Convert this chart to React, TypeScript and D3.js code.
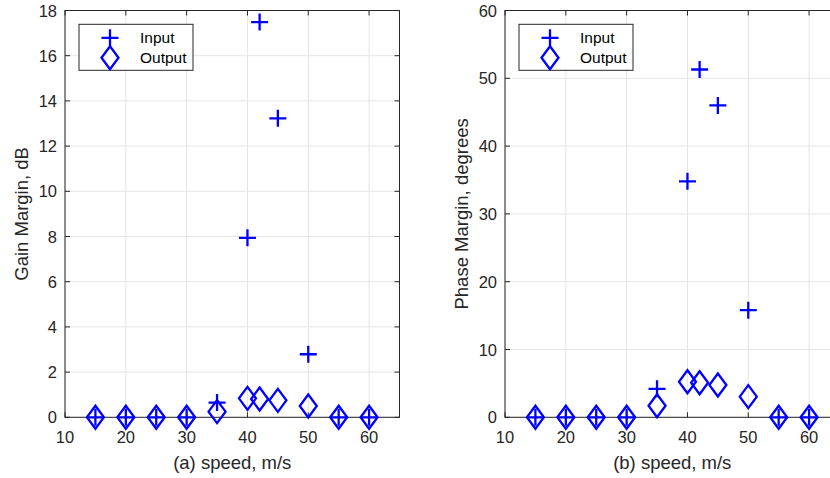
import React from "react";
import * as d3 from "d3";

const speeds = [15, 20, 25, 30, 35, 40, 42, 45, 50, 55, 60];
const gainInput = [0, 0, 0, 0, 0.65, 7.94, 17.49, 13.23, 2.79, 0, 0];
const gainOutput = [0, 0, 0, 0, 0.25, 0.84, 0.81, 0.75, 0.5, 0, 0];
const phaseInput = [0, 0, 0, 0, 4.2, 34.8, 51.3, 46.0, 15.8, 0, 0];
const phaseOutput = [0, 0, 0, 0, 1.7, 5.25, 5.1, 4.77, 3.04, 0, 0];
const xTicks = [10, 20, 30, 40, 50, 60];
const gainTicks = [0, 2, 4, 6, 8, 10, 12, 14, 16, 18];
const phaseTicks = [0, 10, 20, 30, 40, 50, 60];
const legendLabels = ["Input", "Output"];

const BLUE = "#0000ff";
const AX = "#262626";
const GRID = "#e6e6e6";
const FONT = "'Liberation Sans', Arial, Helvetica, sans-serif";

const plusPath = (x: number, y: number, s = 8.5) =>
  `M${x - s},${y}H${x + s}M${x},${y - s}V${y + s}`;
const diamondPath = (x: number, y: number, w = 8.5, h = 11.5) =>
  `M${x},${y - h}L${x + w},${y}L${x},${y + h}L${x - w},${y}Z`;

type PanelProps = {
  left: number;
  right: number;
  top: number;
  bottom: number;
  yMax: number;
  yTicks: number[];
  input: number[];
  output: number[];
  xLabel: string;
  yLabel: string;
  yLabelX: number;
};

function Panel(p: PanelProps) {
  const x = d3.scaleLinear().domain([10, 65]).range([p.left, p.right]);
  const y = d3.scaleLinear().domain([0, p.yMax]).range([p.bottom, p.top]);
  const tl = 5;
  const lgX = p.left + 14;
  const lgY = 24.3;
  return (
    <g>
      {/* grid */}
      {xTicks.map((t) => (
        <line key={"gx" + t} x1={x(t)} x2={x(t)} y1={p.top} y2={p.bottom} stroke={GRID} strokeWidth={1} />
      ))}
      {p.yTicks.map((t) => (
        <line key={"gy" + t} x1={p.left} x2={p.right} y1={y(t)} y2={y(t)} stroke={GRID} strokeWidth={1} />
      ))}
      {/* ticks */}
      {xTicks.map((t) => (
        <g key={"tx" + t}>
          <line x1={x(t)} x2={x(t)} y1={p.bottom} y2={p.bottom - tl} stroke={AX} />
          <line x1={x(t)} x2={x(t)} y1={p.top} y2={p.top + tl} stroke={AX} />
          <text x={x(t)} y={p.bottom + 26} textAnchor="middle" fontSize={16.5} fill={AX} fontFamily={FONT}>
            {t}
          </text>
        </g>
      ))}
      {p.yTicks.map((t) => (
        <g key={"ty" + t}>
          <line x1={p.left} x2={p.left + tl} y1={y(t)} y2={y(t)} stroke={AX} />
          <line x1={p.right} x2={p.right - tl} y1={y(t)} y2={y(t)} stroke={AX} />
          <text x={p.left - 8} y={y(t) + 6} textAnchor="end" fontSize={16.5} fill={AX} fontFamily={FONT}>
            {t}
          </text>
        </g>
      ))}
      <rect x={p.left} y={p.top} width={p.right - p.left} height={p.bottom - p.top} fill="none" stroke={AX} strokeWidth={1} />
      {/* data */}
      {speeds.map((s, i) => (
        <path key={"o" + i} d={diamondPath(x(s), y(p.output[i]))} fill="none" stroke={BLUE} strokeWidth={2.3} />
      ))}
      {speeds.map((s, i) => (
        <path key={"i" + i} d={plusPath(x(s), y(p.input[i]))} fill="none" stroke={BLUE} strokeWidth={2.3} />
      ))}
      {/* labels */}
      <text x={(p.left + p.right) / 2} y={469} textAnchor="middle" fontSize={18.5} fill={AX} fontFamily={FONT}>
        {p.xLabel}
      </text>
      <text
        transform={`translate(${p.yLabelX},${(p.top + p.bottom) / 2}) rotate(-90)`}
        textAnchor="middle"
        dy="0.35em"
        fontSize={18.5}
        fill={AX}
        fontFamily={FONT}
      >
        {p.yLabel}
      </text>
      {/* legend */}
      <rect x={lgX} y={lgY} width={114} height={46} fill="#fff" stroke={AX} strokeWidth={1} />
      <path d={plusPath(lgX + 31, lgY + 13.5)} fill="none" stroke={BLUE} strokeWidth={2.3} />
      <path d={diamondPath(lgX + 31, lgY + 33.5)} fill="none" stroke={BLUE} strokeWidth={2.3} />
      <text x={lgX + 61} y={lgY + 19} fontSize={15.5} fill="#000" fontFamily={FONT}>
        {legendLabels[0]}
      </text>
      <text x={lgX + 61} y={lgY + 39} fontSize={15.5} fill="#000" fontFamily={FONT}>
        {legendLabels[1]}
      </text>
    </g>
  );
}

export default function App() {
  return (
    <svg width={830} height={478} style={{ position: "absolute", left: 0, top: 0, background: "#fff" }}>
      <rect width={830} height={478} fill="#fff" />
      <Panel
        left={65}
        right={399.5}
        top={10.5}
        bottom={417.3}
        yMax={18}
        yTicks={gainTicks}
        input={gainInput}
        output={gainOutput}
        xLabel="(a) speed, m/s"
        yLabel="Gain Margin, dB"
        yLabelX={22}
      />
      <Panel
        left={505}
        right={839.5}
        top={10.5}
        bottom={417.3}
        yMax={60}
        yTicks={phaseTicks}
        input={phaseInput}
        output={phaseOutput}
        xLabel="(b) speed, m/s"
        yLabel="Phase Margin, degrees"
        yLabelX={462}
      />
    </svg>
  );
}
